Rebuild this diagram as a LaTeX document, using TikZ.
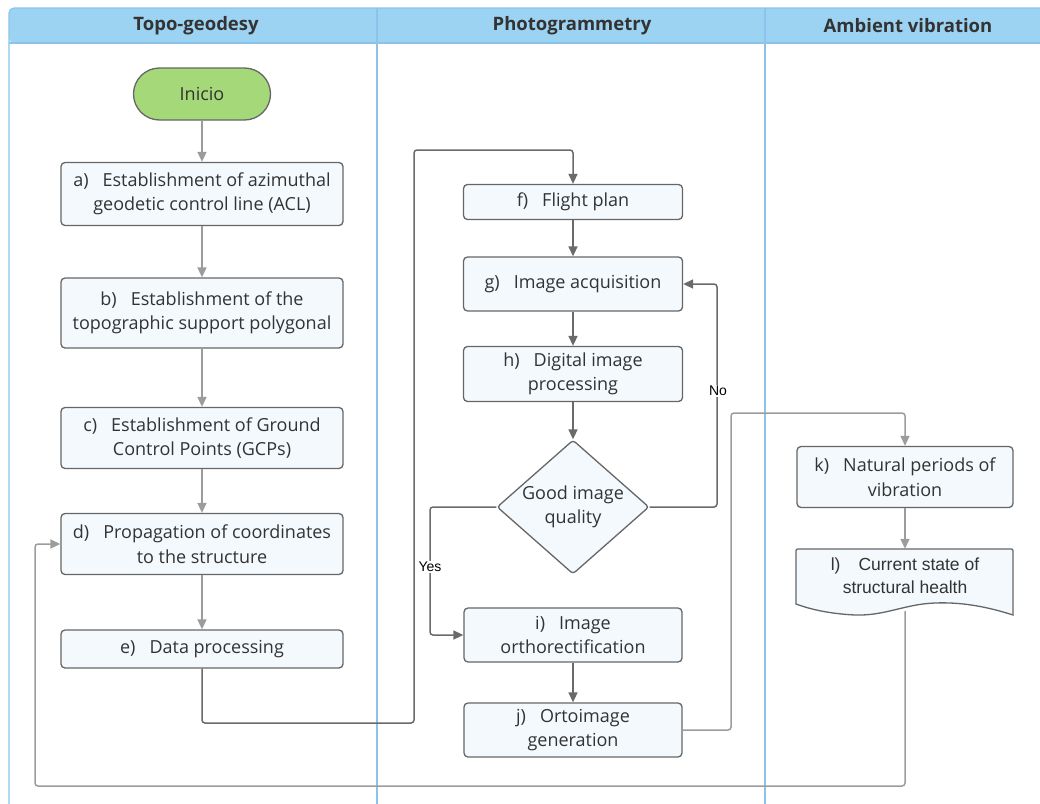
\documentclass[tikz,border=0pt]{standalone}
\usepackage{fontspec}
\setmainfont{Open Sans}
\newfontfamily\arialf{Liberation Sans}
\usetikzlibrary{shapes.geometric,arrows.meta}
\definecolor{hdrfill}{HTML}{9DD3F2}
\definecolor{laneline}{HTML}{8BC3EA}
\definecolor{boxfill}{HTML}{F3F9FD}
\definecolor{boxline}{HTML}{666666}
\definecolor{startfill}{HTML}{A5D879}
\definecolor{dkline}{HTML}{6A6A6A}
\definecolor{ltline}{HTML}{9C9C9C}
\definecolor{txt}{HTML}{333333}
\tikzset{
  stepbox/.style={draw=boxline, fill=boxfill, line width=1.3pt, rounded corners=4pt,
    align=center, text=txt, inner sep=2pt, font=\fontsize{18}{24.5}\selectfont},
  dk/.style={draw=dkline, line width=1.5pt, rounded corners=3pt, -{Triangle[length=10pt,width=9pt]}},
  lt/.style={draw=ltline, line width=1.5pt, rounded corners=3pt, -{Triangle[length=10pt,width=9pt]}},
  lane/.style={draw=laneline, line width=1.2pt},
  hdrtext/.style={font=\bfseries\fontsize{18.5}{21}\selectfont, text=txt},
  lbl/.style={font=\arialf\fontsize{14}{16}\selectfont, fill=white, inner sep=1pt, text=black}
}
\begin{document}
\begin{tikzpicture}[x=1pt,y=-1pt]
\useasboundingbox (0,0) rectangle (1040,803);
\begin{scope}
\clip (0,0) rectangle (1040,803);
% header
\fill[hdrfill, rounded corners=5pt] (9,8) rectangle (1060,43);
\draw[lane, rounded corners=5pt] (9,820) -- (9,8) -- (1060,8);
\draw[lane] (9,43) -- (1060,43);
\draw[lane] (377,8) -- (377,820);
\draw[lane] (765,8) -- (765,820);
\end{scope}
\node[hdrtext] (h1) at (196,26) {Topo-geodesy};
\node[hdrtext] (h2) at (572,26) {Photogrammetry};
\node[hdrtext] (h3) at (908,26) {Ambient vibration};

% nodes
\node[draw=boxline, fill=startfill, line width=1.3pt, rounded corners=26pt, minimum width=137pt, minimum height=52pt, text=txt, font=\fontsize{18}{24}\selectfont] (start) at (202,94) {Inicio};
\node[stepbox, minimum width=282pt, minimum height=63pt] (a) at (202,194) {a)\hspace{14pt}Establishment of azimuthal\\geodetic control line (ACL)};
\node[stepbox, minimum width=282pt, minimum height=70pt] (b) at (202,313) {b)\hspace{14pt}Establishment of the\\topographic support polygonal};
\node[stepbox, minimum width=282pt, minimum height=61pt] (c) at (202,438) {c)\hspace{14pt}Establishment of Ground\\Control Points (GCPs)};
\node[stepbox, minimum width=282pt, minimum height=61pt] (d) at (202,544) {d)\hspace{14pt}Propagation of coordinates\\to the structure};
\node[stepbox, minimum width=282pt, minimum height=38pt] (e) at (202,649) {e)\hspace{14pt}Data processing};

\node[stepbox, minimum width=219pt, minimum height=35pt] (f) at (573,202) {f)\hspace{14pt}Flight plan};
\node[stepbox, minimum width=219pt, minimum height=54pt] (g) at (573,284) {g)\hspace{14pt}Image acquisition};
\node[stepbox, minimum width=219pt, minimum height=55pt] (h) at (573,374) {h)\hspace{14pt}Digital image\\processing};
\node[stepbox, diamond, rounded corners=3pt, inner sep=-6pt, aspect=1.13, minimum width=152pt, minimum height=134pt] (q) at (573,507) {Good image\\quality};
\node[stepbox, minimum width=218pt, minimum height=54pt] (i) at (573,635) {i)\hspace{14pt}Image\\orthorectification};
\node[stepbox, minimum width=218pt, minimum height=54pt] (j) at (573,730) {j)\hspace{14pt}Ortoimage\\generation};

\node[stepbox, minimum width=216pt, minimum height=61pt] (k) at (905,477) {k)\hspace{14pt}Natural periods of\\vibration};
% document shape for l
\node[minimum width=217pt, minimum height=62pt, inner sep=0pt] (l) at (905,580) {};
\draw[draw=boxline, fill=boxfill, line width=1.3pt]
  (796,604) -- (796,553) .. controls (796,549) .. (800,549)
  -- (1009,549) .. controls (1013,549) .. (1013,553)
  -- (1013,615)
  .. controls (985,606) and (960,602) .. (935,603)
  .. controls (905,604) and (885,616) .. (855,615)
  .. controls (835,614) and (815,611) .. (796,604) -- cycle;
\node[align=center, text=txt, font=\arialf\fontsize{17.5}{23}\selectfont] (ltext) at (905,576) {l)\hspace{18pt}Current state of\\structural health};

% connectors
\draw[lt] (start) -- (a);
\draw[lt] (a) -- (b);
\draw[lt] (b) -- (c);
\draw[lt] (c) -- (d);
\draw[lt] (d) -- (e);
\draw[dk] (e.south) -- (202,723) -- (414,723) -- (414,150) -- (573,150) -- (f.north);
\draw[dk] (f) -- (g);
\draw[dk] (g) -- (h);
\draw[dk] (h) -- (q);
\draw[dk] (q.east) -- (717,507) -- (717,284) -- (g.east);
\node[lbl] (no) at (718,391) {No};
\draw[dk] (q.west) -- (430,507) -- (430,635) -- (i.west);
\node[lbl] (yes) at (430,567) {Yes};
\draw[dk] (i) -- (j);
\draw[lt] (j.east) -- (731,730) -- (731,413) -- (905,413) -- (k.north);
\draw[lt] (k) -- (l.north);
\draw[lt] (l.south) -- (905,786) -- (35,786) -- (35,544) -- (d.west);
\end{tikzpicture}
\end{document}
